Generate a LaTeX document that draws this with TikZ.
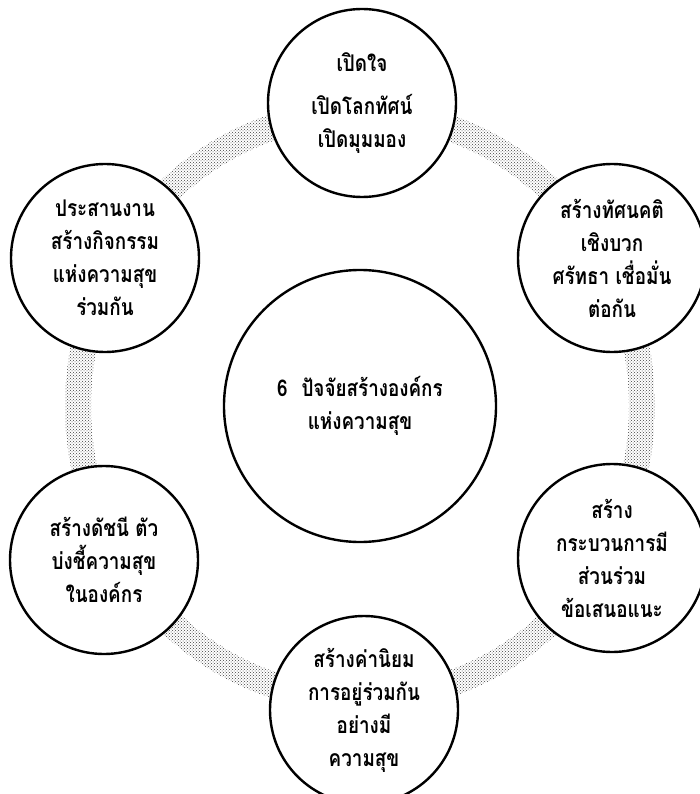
\documentclass[tikz,border=0pt]{standalone}
\usepackage{fontspec}
\newfontfamily\thaifont[Script=Thai,FakeStretch=0.82]{Loma}
\usetikzlibrary{patterns}
\begin{document}
\begin{tikzpicture}[x=1pt,y=-1pt,
  factor/.style={circle, draw=black, line width=2.4pt, fill=white,
    minimum size=188pt, inner sep=0pt, align=center,
    font=\thaifont\bfseries\fontsize{23}{33}\selectfont},
  hub/.style={factor, minimum size=272pt},
  band/.style={pattern=crosshatch dots, pattern color=black!75, even odd rule}]
\useasboundingbox (0,0) rectangle (700,794);
% stippled ring that links the six factors
\fill[band] (360,406) ellipse [x radius=295pt, y radius=306pt]
            (360,406) ellipse [x radius=269pt, y radius=280pt];
% central theme
\node[hub] (hub) at (360,406) {6\hspace{0.6em}ปัจจัยสร้างองค์กร\\แห่งความสุข};
% the six factors
\node[factor] (top) at (362,103) {เปิดใจ\\[10pt]เปิดโลกทัศน์\\เปิดมุมมอง};
\node[factor] (ur)  at (612,258) {สร้างทัศนคติ\\เชิงบวก\\ศรัทธา เชื่อมั่น\\ต่อกัน};
\node[factor] (lr)  at (612,558) {สร้าง\\กระบวนการมี\\ส่วนร่วม\\ข้อเสนอแนะ};
\node[factor] (bot) at (364,710) {สร้างค่านิยม\\การอยู่ร่วมกัน\\อย่างมี\\ความสุข};
\node[factor] (ll)  at (104,560) {สร้างดัชนี ตัว\\บ่งชี้ความสุข\\ในองค์กร};
\node[factor] (ul)  at (105,258) {ประสานงาน\\สร้างกิจกรรม\\แห่งความสุข\\ร่วมกัน};
\end{tikzpicture}
\end{document}
